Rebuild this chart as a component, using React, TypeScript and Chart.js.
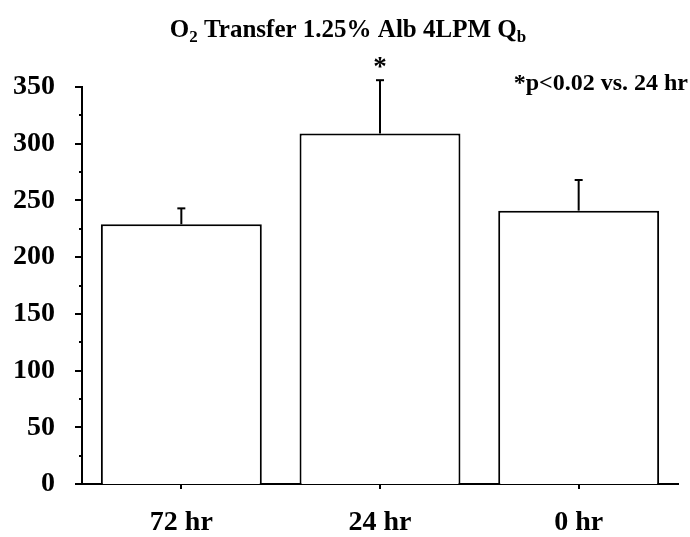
import React, { useEffect, useRef } from "react";
import { Chart, registerables } from "chart.js";

Chart.register(...registerables);

// ---- data ----
const categories = ["72 hr", "24 hr", "0 hr"];
const means = [229, 309, 241];
const errors = [14, 47, 27];
const significance = ["", "*", ""];
const yMin = 0;
const yMax = 350;
const yStep = 50;
const yMinorStep = 25;
const titleParts = [
  { text: "O", sub: false },
  { text: "2", sub: true },
  { text: " Transfer 1.25% Alb 4LPM Q", sub: false },
  { text: "b", sub: true },
];
const noteText = "*p<0.02 vs. 24 hr";

const FONT = "'Liberation Serif', 'Times New Roman', serif";

const overlayPlugin = {
  id: "overlay",
  afterDatasetsDraw(chart: any) {
    const ctx = chart.ctx;
    const y = chart.scales.y;
    const meta = chart.getDatasetMeta(0);
    ctx.save();
    ctx.strokeStyle = "#000";
    ctx.fillStyle = "#000";
    ctx.lineWidth = 2;
    meta.data.forEach((bar: any, i: number) => {
      const base = y.getPixelForValue(means[i]);
      const top = y.getPixelForValue(means[i] + errors[i]);
      ctx.beginPath();
      ctx.moveTo(bar.x, base);
      ctx.lineTo(bar.x, top);
      ctx.stroke();
      ctx.beginPath();
      ctx.moveTo(bar.x - 4, top);
      ctx.lineTo(bar.x + 4, top);
      ctx.stroke();
      if (significance[i]) {
        ctx.font = `bold 27px ${FONT}`;
        ctx.textAlign = "center";
        ctx.textBaseline = "alphabetic";
        ctx.fillText(significance[i], bar.x, top - 5);
      }
    });
    ctx.restore();
  },
  afterDraw(chart: any) {
    const ctx = chart.ctx;
    const y = chart.scales.y;
    const area = chart.chartArea;
    ctx.save();
    ctx.strokeStyle = "#000";
    ctx.fillStyle = "#000";
    ctx.lineWidth = 2;
    // y ticks (major + minor)
    for (let v = yMin; v <= yMax; v += yMinorStep) {
      const py = Math.round(y.getPixelForValue(v));
      const len = v % yStep === 0 ? 7 : 3;
      ctx.beginPath();
      ctx.moveTo(area.left - len, py);
      ctx.lineTo(area.left, py);
      ctx.stroke();
    }
    // title with subscripts
    const mainSize = 25;
    const subSize = 17;
    let total = 0;
    titleParts.forEach((p) => {
      ctx.font = `bold ${p.sub ? subSize : mainSize}px ${FONT}`;
      total += ctx.measureText(p.text).width;
    });
    let x = chart.width / 2 + 3 - total / 2;
    const baseY = 37;
    ctx.textAlign = "left";
    ctx.textBaseline = "alphabetic";
    titleParts.forEach((p) => {
      ctx.font = `bold ${p.sub ? subSize : mainSize}px ${FONT}`;
      ctx.fillText(p.text, x, p.sub ? baseY + 5 : baseY);
      x += ctx.measureText(p.text).width;
    });
    // note
    ctx.font = `bold 24px ${FONT}`;
    ctx.textAlign = "right";
    ctx.fillText(noteText, 688, 90);
    ctx.restore();
  },
};

export default function App() {
  const ref = useRef<HTMLCanvasElement | null>(null);
  useEffect(() => {
    if (!ref.current) return;
    const chart = new Chart(ref.current, {
      type: "bar",
      data: {
        labels: categories,
        datasets: [
          {
            data: means,
            backgroundColor: "#ffffff",
            borderColor: "#000000",
            borderWidth: 2,
            barPercentage: 0.81,
            categoryPercentage: 1,
          },
        ],
      },
      options: {
        responsive: false,
        animation: false,
        devicePixelRatio: 1,
        layout: { padding: { top: 87, right: 12, left: 0, bottom: 0 } },
        plugins: {
          legend: { display: false },
          tooltip: { enabled: false },
          title: { display: false },
        },
        scales: {
          x: {
            grid: {
              display: true,
              drawOnChartArea: false,
              drawTicks: true,
              tickLength: 5,
              offset: false,
              color: "#000",
              lineWidth: 2,
            },
            border: { display: true, color: "#000", width: 2 },
            ticks: {
              color: "#000",
              font: { family: FONT, size: 28, weight: "bold" },
              padding: 17,
              maxRotation: 0,
            },
            afterFit: (s: any) => {
              s.height = 53;
            },
          },
          y: {
            min: yMin,
            max: yMax,
            grid: { display: false, drawTicks: false },
            border: { display: true, color: "#000", width: 2 },
            ticks: {
              stepSize: yStep,
              color: "#000",
              font: { family: FONT, size: 28, weight: "bold" },
              padding: 27,
            },
            afterFit: (s: any) => {
              s.width = 82;
            },
          },
        },
      },
      plugins: [overlayPlugin],
    });
    return () => chart.destroy();
  }, []);
  return (
    <div style={{ position: "absolute", left: 0, top: 0, width: 690, height: 537, background: "#fff" }}>
      <canvas ref={ref} width={690} height={537} />
    </div>
  );
}
